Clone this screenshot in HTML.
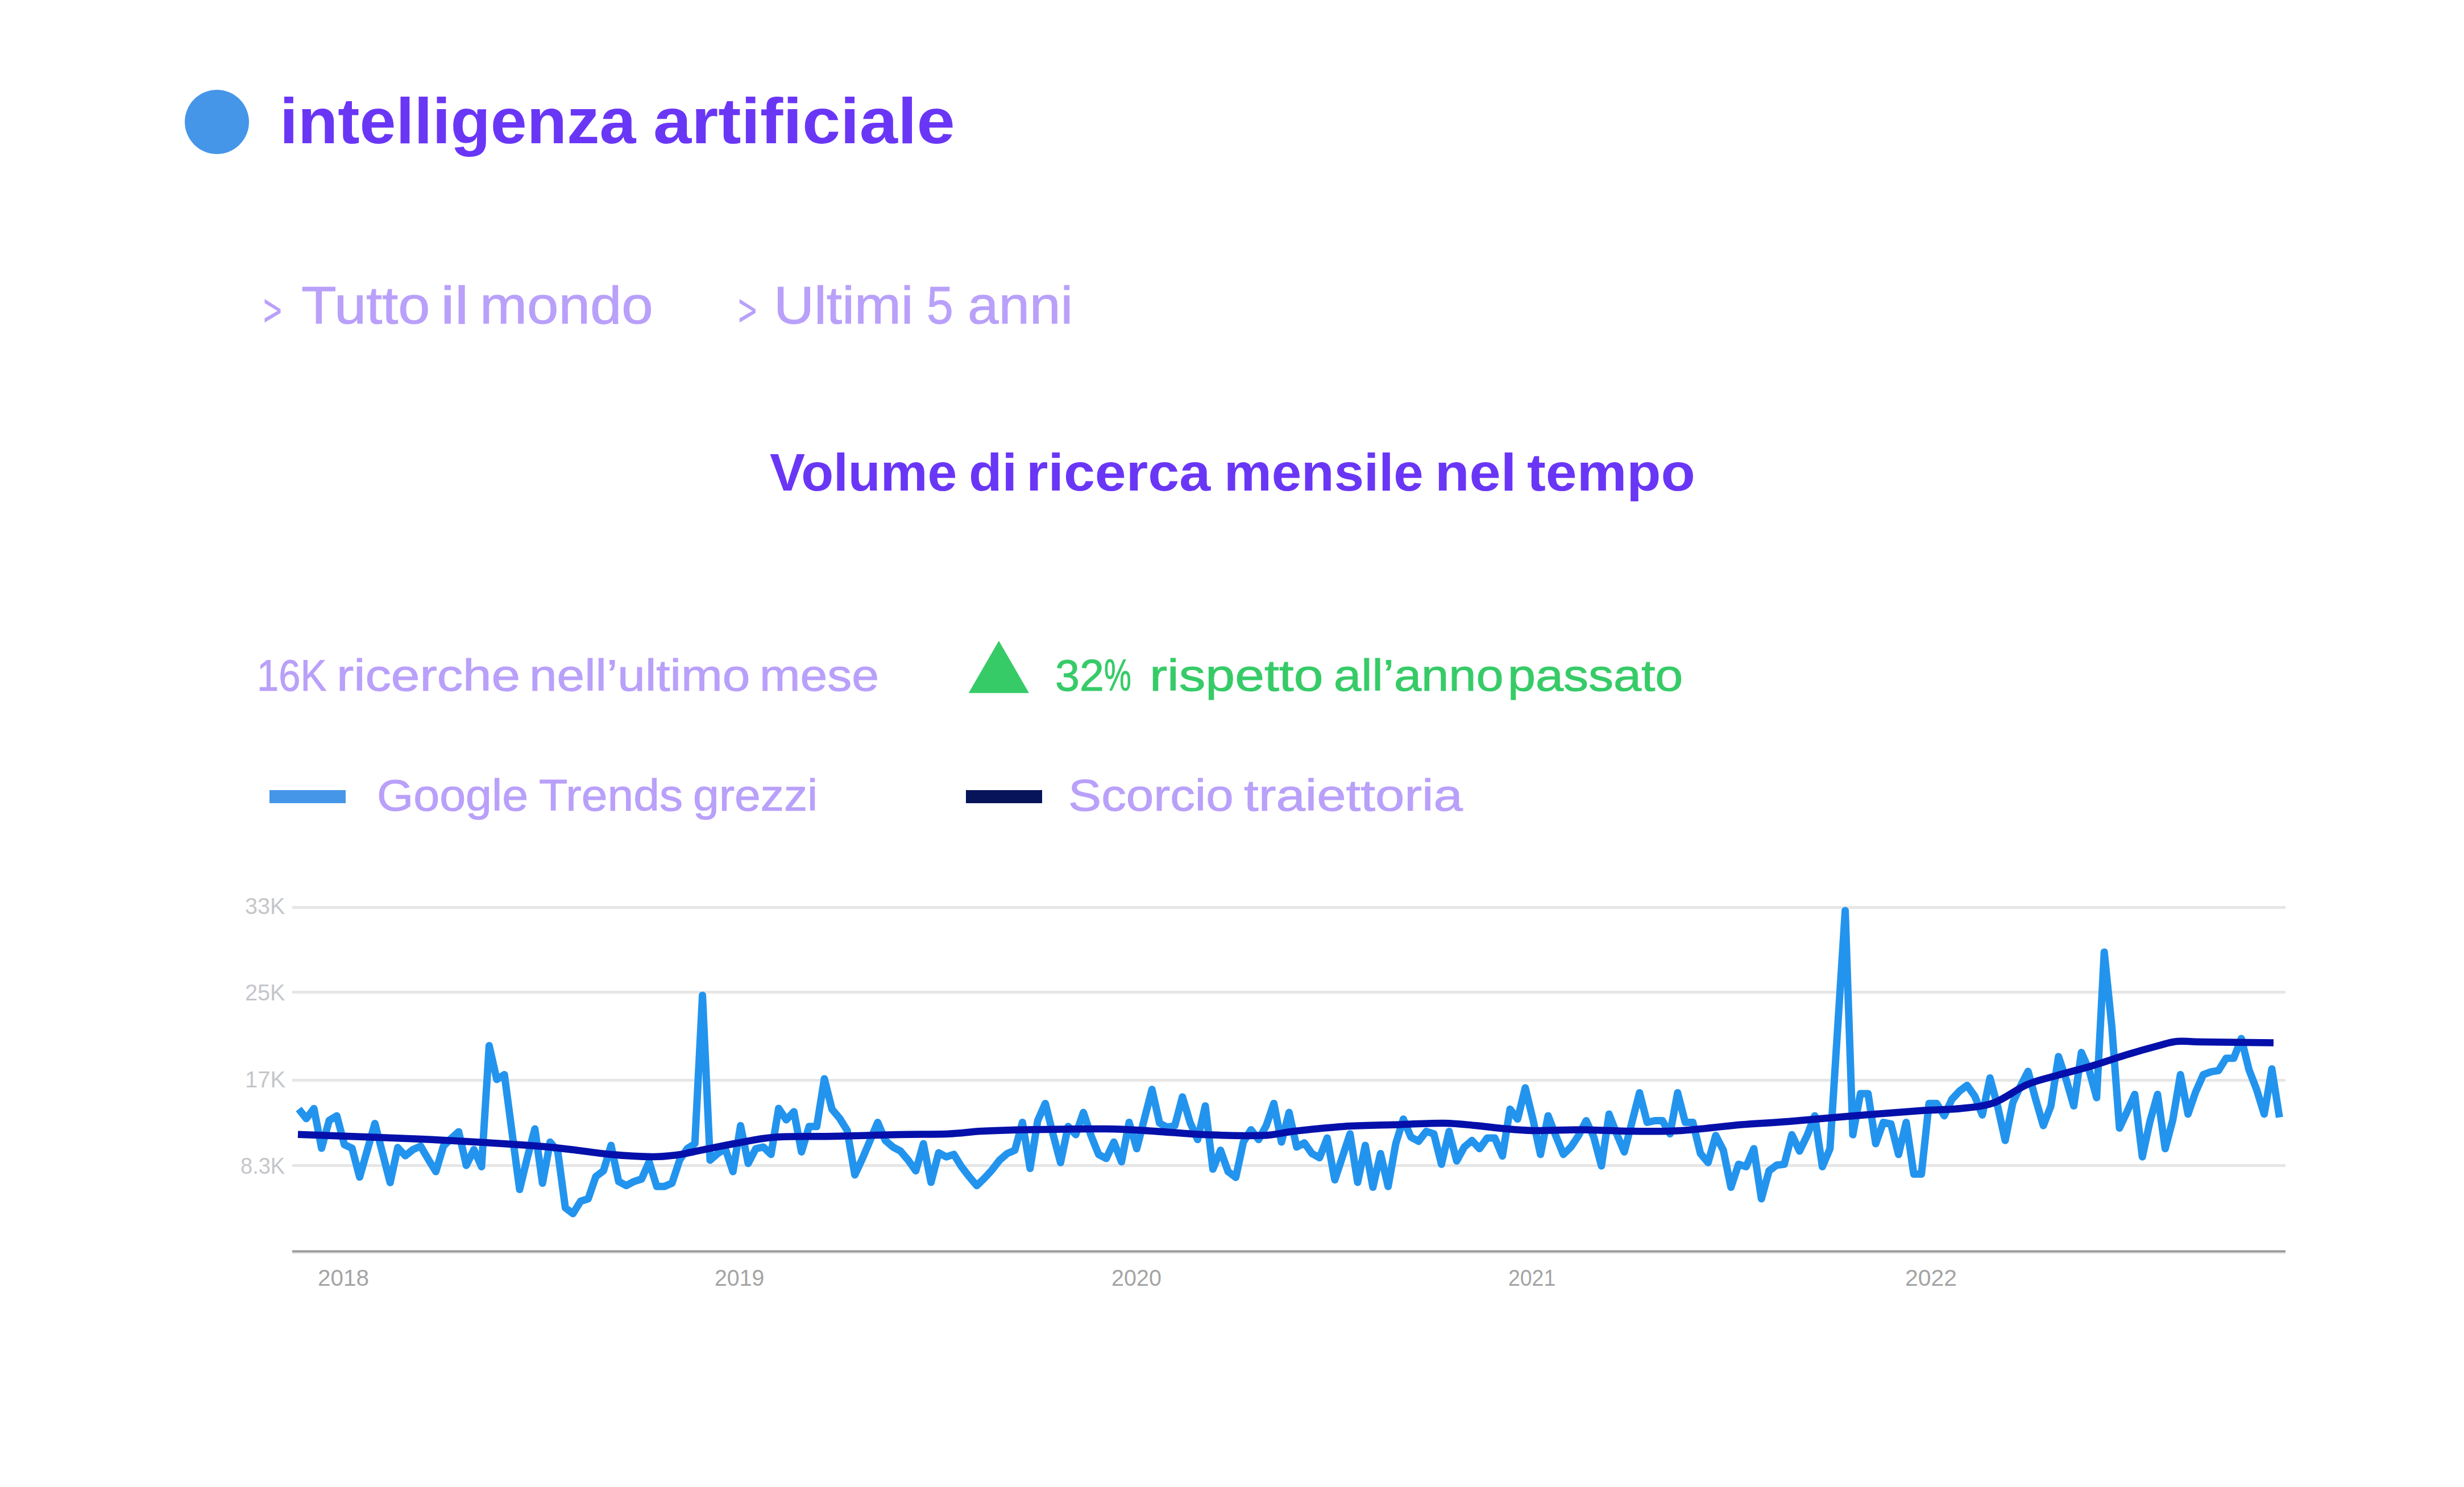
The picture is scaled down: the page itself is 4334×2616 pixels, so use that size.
<!DOCTYPE html>
<html><head><meta charset="utf-8"><style>
html,body{margin:0;padding:0;background:#fff;}
body{width:4334px;height:2616px;position:relative;overflow:hidden;font-family:"Liberation Sans",sans-serif;}
.t{position:absolute;white-space:nowrap;line-height:normal;transform-origin:0 0;}
</style></head><body>
<div style="position:absolute;left:325px;top:158px;width:113px;height:113px;border-radius:50%;background:#4596E8"></div>
<svg style="position:absolute;left:0;top:0" width="4334" height="2616" viewBox="0 0 4334 2616">
<polygon points="465.5,526.0 493.6,543.9 493.6,550.4 465.5,567.4 465.5,560.1 488.2,547.1 465.5,533.3" fill="#B9A0FA"/>
<polygon points="1300.8,526.0 1328.9,543.9 1328.9,550.4 1300.8,567.4 1300.8,560.1 1323.5,547.1 1300.8,533.3" fill="#B9A0FA"/>
<polygon points="1703.7,1219.3 1810,1219.3 1756.9,1127.3" fill="#37CB68"/>
<rect x="474" y="1390" width="134" height="23" fill="#4596E8"/>
<rect x="1699" y="1390" width="134" height="23" fill="#07145A"/>
<rect x="514" y="1594.0" width="3506" height="5" fill="#E6E6E6"/><rect x="514" y="1743.0" width="3506" height="5" fill="#E6E6E6"/><rect x="514" y="1898.0" width="3506" height="5" fill="#E6E6E6"/><rect x="514" y="2048.0" width="3506" height="5" fill="#E6E6E6"/><rect x="514" y="2199.5" width="3506" height="4" fill="#9A9A9A"/><rect x="514" y="2203.5" width="3506" height="2" fill="#DDDDDD"/><polyline points="525.4,1951.0 538.8,1967.9 552.2,1950.3 565.6,2020.0 579.0,1971.1 592.4,1963.1 605.8,2013.9 619.2,2020.0 632.6,2070.8 646.0,2023.6 659.4,1976.4 672.8,2028.4 686.2,2080.5 699.6,2018.8 713.0,2033.3 726.4,2022.4 739.8,2016.3 753.2,2039.3 766.6,2061.1 780.0,2016.3 793.4,2003.0 806.8,1990.9 820.2,2050.2 833.6,2022.4 847.0,2052.6 860.4,1839.6 873.8,1898.9 887.2,1890.5 900.6,1992.1 914.0,2092.6 927.4,2036.9 940.8,1986.0 954.2,2081.5 967.6,2009.2 981.0,2025.1 994.4,2124.9 1007.8,2135.0 1021.2,2113.3 1034.6,2109.0 1048.0,2069.9 1061.4,2059.8 1074.8,2015.0 1088.2,2078.6 1101.6,2085.8 1115.0,2078.6 1128.4,2074.3 1141.8,2043.9 1155.2,2087.3 1168.6,2087.3 1182.0,2081.5 1195.4,2041.0 1208.8,2020.8 1222.2,2012.1 1235.6,1750.9 1249.0,2041.0 1262.4,2029.4 1275.8,2020.8 1289.2,2061.2 1302.6,1980.3 1316.0,2046.8 1329.4,2020.8 1342.8,2017.9 1356.2,2030.9 1369.6,1949.9 1383.0,1970.1 1396.4,1955.7 1409.8,2026.5 1423.2,1981.7 1436.6,1981.7 1450.0,1897.8 1463.4,1951.3 1476.8,1967.3 1490.2,1988.9 1503.6,2067.0 1517.0,2038.1 1530.4,2006.3 1543.8,1974.5 1557.2,2006.3 1570.6,2017.9 1584.0,2025.1 1597.4,2041.0 1610.8,2059.8 1624.2,2012.1 1637.6,2080.0 1651.0,2028.0 1664.4,2035.2 1677.8,2030.9 1691.2,2052.6 1704.6,2069.9 1718.0,2085.8 1731.4,2072.8 1744.8,2058.3 1758.2,2041.0 1771.6,2029.4 1785.0,2023.6 1798.4,1974.5 1811.8,2055.5 1825.2,1971.6 1838.6,1941.2 1852.0,1994.7 1865.4,2045.3 1878.8,1981.7 1892.2,1996.2 1905.6,1957.1 1919.0,1997.6 1932.4,2030.9 1945.8,2038.1 1959.2,2009.2 1972.6,2043.9 1986.0,1974.5 1999.4,2020.8 2012.8,1968.7 2026.2,1916.6 2039.6,1975.9 2053.0,1983.2 2066.4,1980.3 2079.8,1929.7 2093.2,1974.5 2106.6,2004.8 2120.0,1945.6 2133.4,2056.9 2146.8,2023.6 2160.2,2061.2 2173.6,2071.4 2187.0,2009.2 2200.4,1987.5 2213.8,2004.8 2227.2,1980.3 2240.6,1941.2 2254.0,2009.2 2267.4,1957.1 2280.8,2017.9 2294.2,2010.6 2307.6,2029.4 2321.0,2036.7 2334.4,2002.0 2347.8,2075.7 2361.2,2035.2 2374.6,1994.7 2388.0,2080.0 2401.4,2015.0 2414.8,2088.7 2428.2,2029.4 2441.6,2087.3 2455.0,2012.1 2468.4,1968.7 2481.8,2000.5 2495.2,2007.7 2508.6,1990.4 2522.0,1994.7 2535.4,2048.2 2548.8,1990.4 2562.2,2042.4 2575.6,2017.9 2589.0,2006.3 2602.4,2020.8 2615.8,2002.0 2629.2,2002.0 2642.6,2033.8 2656.0,1951.3 2669.4,1968.7 2682.8,1913.8 2696.2,1968.7 2709.6,2030.9 2723.0,1962.9 2736.4,1997.6 2749.8,2030.9 2763.2,2017.9 2776.6,1997.6 2790.0,1971.6 2803.4,2000.5 2816.8,2051.1 2830.2,1960.0 2843.6,1994.7 2857.0,2026.5 2870.4,1974.5 2883.8,1922.4 2897.2,1974.5 2910.6,1971.6 2924.0,1971.6 2937.4,1994.7 2950.8,1922.4 2964.2,1974.5 2977.6,1974.5 2991.0,2029.4 3004.4,2045.3 3017.8,1997.6 3031.2,2023.6 3044.6,2088.7 3058.0,2048.2 3071.4,2052.6 3084.8,2020.8 3098.2,2109.0 3111.6,2059.8 3125.0,2049.7 3138.4,2048.2 3151.8,1996.2 3165.2,2025.1 3178.6,1997.6 3192.0,1962.9 3205.4,2052.6 3218.8,2020.8 3232.2,1810.2 3245.6,1602.0 3259.0,1996.2 3272.4,1923.9 3285.8,1923.9 3299.2,2012.1 3312.6,1974.5 3326.0,1977.4 3339.4,2030.9 3352.8,1974.5 3366.2,2065.6 3379.6,2065.6 3393.0,1941.2 3406.4,1941.2 3419.8,1962.9 3433.2,1934.0 3446.6,1919.5 3460.0,1909.4 3473.4,1928.2 3486.8,1961.5 3500.2,1896.4 3513.6,1945.6 3527.0,2006.3 3540.4,1939.8 3553.8,1910.9 3567.2,1884.8 3580.6,1934.0 3594.0,1980.3 3607.4,1945.6 3620.8,1858.8 3634.2,1899.3 3647.6,1945.6 3661.0,1851.6 3674.4,1881.9 3687.8,1931.1 3701.2,1674.9 3714.6,1806.8 3728.0,1984.6 3741.4,1955.7 3754.8,1925.3 3768.2,2035.2 3781.6,1973.0 3795.0,1925.3 3808.4,2020.8 3821.8,1970.1 3835.2,1890.6 3848.6,1960.0 3862.0,1921.0 3875.4,1890.6 3888.8,1885.6 3902.2,1883.4 3915.6,1861.7 3929.0,1861.7 3942.4,1827.0 3955.8,1881.9 3969.2,1916.6 3982.6,1960.0 3996.0,1880.5 4009.4,1965.8" fill="none" stroke="#2394EE" stroke-width="13" stroke-linejoin="round"/><path d="M524.0,1995.8 C560.3,1997.2 674.3,2000.8 742.0,2004.0 C809.7,2007.2 886.7,2012.0 930.0,2015.0 C973.3,2018.0 977.9,2019.3 1002.0,2022.0 C1026.1,2024.7 1050.4,2028.8 1074.6,2031.0 C1098.8,2033.2 1127.8,2034.8 1147.0,2035.0 C1166.2,2035.2 1178.0,2033.4 1190.0,2032.0 C1202.0,2030.6 1202.1,2029.8 1219.0,2026.5 C1235.9,2023.2 1267.4,2016.3 1291.5,2012.0 C1315.6,2007.7 1334.8,2002.7 1363.8,2000.5 C1392.8,1998.3 1429.5,1999.8 1465.7,1999.0 C1501.9,1998.2 1547.3,1996.7 1581.0,1996.0 C1614.7,1995.3 1643.8,1995.7 1668.0,1994.7 C1692.2,1993.7 1704.0,1991.2 1726.0,1990.0 C1748.0,1988.8 1763.8,1988.2 1800.0,1987.5 C1836.2,1986.8 1905.2,1985.6 1943.5,1986.0 C1981.8,1986.4 2001.1,1988.3 2030.0,1990.0 C2058.9,1991.7 2085.3,1994.7 2117.0,1996.0 C2148.7,1997.3 2193.4,1998.6 2220.0,1997.6 C2246.6,1996.6 2252.9,1992.7 2276.8,1990.0 C2300.7,1987.3 2334.6,1983.6 2363.5,1981.7 C2392.4,1979.8 2421.1,1979.8 2450.0,1978.8 C2478.9,1977.8 2512.8,1975.8 2537.0,1976.0 C2561.2,1976.2 2577.8,1978.5 2595.0,1980.0 C2612.2,1981.5 2623.0,1983.5 2640.0,1985.0 C2657.0,1986.5 2672.9,1988.6 2696.8,1989.0 C2720.7,1989.4 2754.6,1987.3 2783.5,1987.5 C2812.4,1987.7 2841.1,1989.8 2870.0,1990.0 C2898.9,1990.2 2925.3,1990.9 2957.0,1989.0 C2988.7,1987.1 3028.6,1981.5 3060.0,1978.8 C3091.4,1976.1 3112.2,1975.6 3145.7,1973.0 C3179.2,1970.4 3222.4,1966.2 3261.0,1963.0 C3299.6,1959.8 3345.5,1956.2 3377.0,1954.0 C3408.5,1951.8 3428.2,1952.4 3450.0,1950.0 C3471.8,1947.6 3488.5,1946.8 3507.8,1939.8 C3527.1,1932.8 3546.4,1916.2 3565.7,1908.0 C3585.0,1899.8 3604.3,1896.1 3623.5,1890.6 C3642.7,1885.0 3661.8,1880.5 3681.0,1874.7 C3700.2,1868.9 3719.7,1861.9 3739.0,1856.0 C3758.3,1850.1 3781.8,1843.5 3797.0,1839.5 C3812.2,1835.5 3817.2,1833.1 3830.0,1832.0 C3842.8,1830.9 3845.3,1832.6 3873.5,1833.0 C3901.7,1833.4 3978.1,1834.2 3999.0,1834.5" fill="none" stroke="#0510AA" stroke-width="12.5" stroke-linecap="butt"/>
</svg>
<div class="t" style="left:491.7px;top:147.1px;font-size:114px;font-weight:700;color:#6A36F6;transform:scaleX(1.0091)">intelligenza</div><div class="t" style="left:1148.8px;top:147.1px;font-size:114px;font-weight:700;color:#6A36F6;transform:scaleX(1.0601)">artificiale</div><div class="t" style="left:529.7px;top:485.4px;font-size:92px;font-weight:400;color:#B9A0FA;transform:scaleX(1.0984);-webkit-text-stroke:1px #B9A0FA">Tutto</div><div class="t" style="left:775.1px;top:485.4px;font-size:92px;font-weight:400;color:#B9A0FA;transform:scaleX(1.2097);-webkit-text-stroke:1px #B9A0FA">il</div><div class="t" style="left:843.6px;top:485.4px;font-size:92px;font-weight:400;color:#B9A0FA;transform:scaleX(1.0836);-webkit-text-stroke:1px #B9A0FA">mondo</div><div class="t" style="left:1361.1px;top:485.4px;font-size:92px;font-weight:400;color:#B9A0FA;transform:scaleX(1.0685);-webkit-text-stroke:1px #B9A0FA">Ultimi</div><div class="t" style="left:1629.6px;top:485.4px;font-size:92px;font-weight:400;color:#B9A0FA;transform:scaleX(0.9135);-webkit-text-stroke:1px #B9A0FA">5</div><div class="t" style="left:1701.7px;top:485.4px;font-size:92px;font-weight:400;color:#B9A0FA;transform:scaleX(1.065);-webkit-text-stroke:1px #B9A0FA">anni</div><div class="t" style="left:1354.4px;top:779.4px;font-size:92px;font-weight:700;color:#6A36F6;transform:scaleX(1.0113)">Volume</div><div class="t" style="left:1703.7px;top:779.4px;font-size:92px;font-weight:700;color:#6A36F6;transform:scaleX(1.041)">di</div><div class="t" style="left:1805.3px;top:779.4px;font-size:92px;font-weight:700;color:#6A36F6;transform:scaleX(1.0738)">ricerca</div><div class="t" style="left:2153.2px;top:779.4px;font-size:92px;font-weight:700;color:#6A36F6;transform:scaleX(1.0236)">mensile</div><div class="t" style="left:2523.5px;top:779.4px;font-size:92px;font-weight:700;color:#6A36F6;transform:scaleX(1.0778)">nel</div><div class="t" style="left:2686.2px;top:779.4px;font-size:92px;font-weight:700;color:#6A36F6;transform:scaleX(1.0715)">tempo</div><div class="t" style="left:451.8px;top:1143.2px;font-size:78px;font-weight:400;color:#B9A0FA;transform:scaleX(0.8806);-webkit-text-stroke:1px #B9A0FA">16K</div><div class="t" style="left:591.6px;top:1143.2px;font-size:78px;font-weight:400;color:#B9A0FA;transform:scaleX(1.1647);-webkit-text-stroke:1px #B9A0FA">ricerche</div><div class="t" style="left:930.7px;top:1143.2px;font-size:78px;font-weight:400;color:#B9A0FA;transform:scaleX(1.1198);-webkit-text-stroke:1px #B9A0FA">nell’ultimo</div><div class="t" style="left:1336.3px;top:1143.2px;font-size:78px;font-weight:400;color:#B9A0FA;transform:scaleX(1.1005);-webkit-text-stroke:1px #B9A0FA">mese</div><div class="t" style="left:1855.9px;top:1143.2px;font-size:78px;font-weight:400;color:#37CB68;transform:scaleX(0.9892);-webkit-text-stroke:1px #37CB68">32</div><div class="t" style="left:1941.9px;top:1143.2px;font-size:78px;font-weight:400;color:#37CB68;transform:scaleX(0.6885);-webkit-text-stroke:1px #37CB68">%</div><div class="t" style="left:2022.1px;top:1143.2px;font-size:78px;font-weight:400;color:#37CB68;transform:scaleX(1.1947);-webkit-text-stroke:1px #37CB68">rispetto</div><div class="t" style="left:2345.5px;top:1143.2px;font-size:78px;font-weight:400;color:#37CB68;transform:scaleX(1.1103);-webkit-text-stroke:1px #37CB68">all’anno</div><div class="t" style="left:2651.8px;top:1143.2px;font-size:78px;font-weight:400;color:#37CB68;transform:scaleX(1.1285);-webkit-text-stroke:1px #37CB68">passato</div><div class="t" style="left:662.8px;top:1354.2px;font-size:78px;font-weight:400;color:#B9A0FA;transform:scaleX(1.0584);-webkit-text-stroke:1px #B9A0FA">Google</div><div class="t" style="left:947.8px;top:1354.2px;font-size:78px;font-weight:400;color:#B9A0FA;transform:scaleX(1.0554);-webkit-text-stroke:1px #B9A0FA">Trends</div><div class="t" style="left:1218.7px;top:1354.2px;font-size:78px;font-weight:400;color:#B9A0FA;transform:scaleX(1.0542);-webkit-text-stroke:1px #B9A0FA">grezzi</div><div class="t" style="left:1879.0px;top:1354.2px;font-size:78px;font-weight:400;color:#B9A0FA;transform:scaleX(1.1174);-webkit-text-stroke:1px #B9A0FA">Scorcio</div><div class="t" style="left:2187.7px;top:1354.2px;font-size:78px;font-weight:400;color:#B9A0FA;transform:scaleX(1.1838);-webkit-text-stroke:1px #B9A0FA">traiettoria</div><div class="t" style="left:431.4px;top:1571.3px;font-size:41px;font-weight:400;color:#C4C6CA;transform:scaleX(0.9643)">33K</div><div class="t" style="left:431.2px;top:1723.3px;font-size:41px;font-weight:400;color:#C4C6CA;transform:scaleX(0.9671)">25K</div><div class="t" style="left:430.7px;top:1875.8px;font-size:41px;font-weight:400;color:#C4C6CA;transform:scaleX(0.9742)">17K</div><div class="t" style="left:422.5px;top:2028.3px;font-size:41px;font-weight:400;color:#C4C6CA;transform:scaleX(0.9268)">8.3K</div><div class="t" style="left:559.4px;top:2225.3px;font-size:41px;font-weight:400;color:#A4A4A4;transform:scaleX(0.9859)">2018</div><div class="t" style="left:1257.2px;top:2225.3px;font-size:41px;font-weight:400;color:#A4A4A4;transform:scaleX(0.9584)">2019</div><div class="t" style="left:1954.9px;top:2225.3px;font-size:41px;font-weight:400;color:#A4A4A4;transform:scaleX(0.963)">2020</div><div class="t" style="left:2653.0px;top:2225.3px;font-size:41px;font-weight:400;color:#A4A4A4;transform:scaleX(0.9123)">2021</div><div class="t" style="left:3351.0px;top:2225.3px;font-size:41px;font-weight:400;color:#A4A4A4;transform:scaleX(0.9975)">2022</div>
</body></html>
